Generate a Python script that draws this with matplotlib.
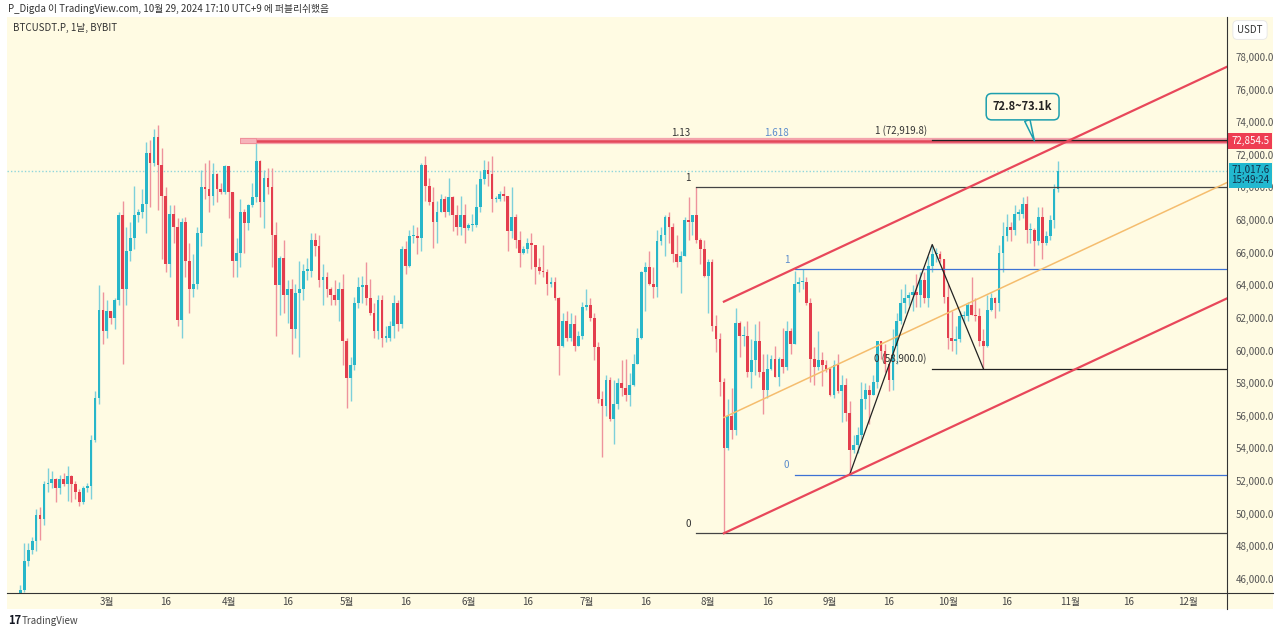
import matplotlib.pyplot as plt
import matplotlib.dates as mdates
from matplotlib.patches import Rectangle
from matplotlib.lines import Line2D
import numpy as np
import pandas as pd

plt.rcParams['font.family'] = ['Noto Sans CJK KR', 'DejaVu Sans']

# BTCUSDT.P daily candles, thousands of USDT, one row per month (Feb 8 .. Oct 29)
first_day = '2024-02-08'
first_open = 44.3
highs = [
    45.6, 48.2, 48.2, 48.6, 50.3, 50.4, 52.0, 52.8, 52.6, 52.2, 52.4, 52.5, 52.9, 52.4, 52.0, 51.5, 51.7, 51.9, 54.8, 57.5, 64.0, 63.6,
    63.1, 62.4, 63.2, 68.5, 69.2, 67.6, 67.9, 70.1, 68.7, 69.9, 72.8, 72.9, 73.6, 73.8, 72.4, 70.0, 68.9, 68.9, 68.1, 68.1, 68.2, 66.6, 65.9, 67.6, 71.1, 71.5, 71.7, 71.5, 70.9, 70.3, 71.4,
    71.3, 69.7, 66.9, 69.3, 68.7, 69.0, 70.3, 72.7, 71.7, 71.1, 71.2, 71.2, 67.9, 65.8, 66.8, 64.3, 64.4, 64.1, 65.5, 65.3, 65.7, 67.2, 67.2, 67.1, 65.3, 64.8, 63.9, 64.3, 64.2, 64.7,
    60.8, 59.6, 63.3, 64.5, 64.6, 65.4, 64.4, 62.9, 63.4, 63.4, 61.5, 61.8, 63.4, 63.1, 66.4, 66.7, 67.4, 67.7, 67.6, 71.5, 71.9, 70.6, 70.0, 69.2, 69.6, 69.5, 70.6, 69.5, 68.9, 69.5, 69.0,
    67.8, 68.4, 70.2, 71.0, 71.7, 71.6, 71.9, 69.5, 69.8, 70.1, 69.5, 70.0, 68.4, 67.3, 66.4, 66.9, 67.2, 66.5, 65.7, 66.5, 65.0, 64.5, 64.5, 63.3, 62.3, 62.4, 62.3, 62.2, 61.2, 63.0,
    63.8, 63.2, 62.3, 60.5, 57.5, 58.5, 58.4, 58.2, 58.3, 59.4, 59.5, 58.6, 59.8, 61.4, 64.9, 65.4, 66.1, 65.1, 67.4, 67.6, 68.3, 68.5, 67.8, 67.1, 66.1, 68.2, 69.4, 68.3, 70.0, 66.9, 66.8,
    65.6, 65.6, 62.2, 61.1, 58.3, 57.0, 57.7, 62.6, 61.8, 61.5, 61.8, 60.7, 61.6, 61.8, 59.8, 59.8, 59.7, 60.3, 59.6, 61.4, 61.8, 61.4, 64.9, 64.5, 65.0, 64.5, 63.2, 60.2, 61.2, 59.9, 59.4,
    59.0, 59.4, 59.8, 58.5, 58.3, 56.9, 54.8, 55.3, 58.1, 58.0, 57.9, 58.5, 60.6, 60.6, 60.4, 59.2, 61.3, 62.3, 63.8, 64.1, 63.6, 64.0, 64.7, 64.8, 64.8, 65.8, 66.5, 66.3, 66.1, 65.6,
    64.1, 62.4, 61.5, 62.4, 62.4, 63.0, 64.5, 63.2, 62.6, 61.3, 63.4, 63.5, 63.3, 66.5, 67.9, 68.4, 67.9, 68.9, 68.7, 69.4, 69.5, 67.8, 67.5, 68.8, 68.8, 67.3, 68.3, 70.2, 71.6,
]
lows = [
    44.1, 45.2, 46.8, 47.5, 47.7, 48.4, 49.3, 51.3, 51.6, 50.7, 51.2, 51.7, 50.8, 50.7, 50.9, 50.5, 50.6, 51.3, 50.9, 54.4, 56.7, 60.4,
    60.8, 61.6, 61.3, 62.8, 59.2, 62.8, 65.5, 66.2, 67.9, 68.1, 67.2, 68.8, 71.3, 68.6, 65.6, 64.8, 64.5, 66.6, 61.5, 60.8, 64.5, 62.3, 63.3, 63.8, 66.4, 69.3, 68.5, 68.9, 69.1, 69.6, 69.6,
    68.1, 64.5, 64.5, 65.1, 66.0, 67.4, 68.8, 69.1, 68.2, 67.5, 69.6, 65.1, 60.9, 62.2, 62.3, 61.7, 59.8, 60.8, 59.6, 63.1, 64.3, 64.5, 65.8, 63.9, 62.8, 63.3, 62.8, 62.8, 61.8, 59.1,
    56.5, 56.9, 58.8, 62.6, 62.9, 62.8, 62.2, 60.8, 60.7, 60.2, 60.5, 60.6, 60.8, 61.2, 61.4, 64.7, 65.1, 66.6, 65.9, 66.1, 69.2, 68.9, 66.3, 66.6, 68.5, 68.2, 68.3, 67.3, 67.1, 67.1, 66.6,
    67.4, 67.3, 67.6, 68.5, 70.2, 70.1, 68.5, 69.1, 69.2, 69.2, 66.1, 66.9, 66.3, 65.1, 65.9, 66.0, 65.0, 64.1, 64.7, 64.5, 63.4, 63.9, 63.1, 58.5, 60.2, 60.6, 60.6, 60.0, 60.3, 60.7,
    62.5, 61.8, 59.4, 56.8, 53.5, 56.0, 55.7, 54.3, 56.4, 57.2, 56.9, 56.6, 57.8, 59.2, 60.7, 62.4, 64.0, 63.2, 63.3, 66.5, 65.8, 66.6, 65.4, 65.1, 63.5, 65.8, 66.8, 67.1, 66.6, 65.3, 64.5,
    62.3, 61.2, 59.9, 57.2, 48.8, 53.9, 54.6, 54.8, 59.6, 60.3, 58.4, 57.7, 58.5, 58.4, 56.1, 57.1, 58.8, 58.4, 57.8, 58.6, 58.8, 59.8, 60.4, 63.6, 63.8, 62.8, 58.1, 57.9, 58.8, 57.8, 58.7,
    57.2, 57.1, 57.4, 55.6, 55.7, 52.4, 53.7, 53.7, 54.6, 56.4, 55.5, 57.3, 57.7, 59.5, 58.7, 57.5, 57.6, 59.2, 61.6, 62.3, 62.8, 62.4, 62.7, 62.7, 62.9, 62.7, 64.8, 65.4, 65.4, 62.9,
    60.1, 60.0, 59.8, 60.5, 61.7, 61.8, 62.2, 61.8, 60.3, 58.9, 60.2, 62.4, 62.0, 62.4, 64.8, 66.7, 66.7, 67.1, 68.0, 68.1, 66.6, 66.6, 65.2, 66.5, 65.6, 66.5, 66.8, 67.5, 69.7,
]
closes = [
    45.3, 47.1, 47.75, 48.3, 49.9, 49.7, 51.8, 51.9, 52.1, 51.6, 52.1, 51.8, 52.3, 51.8, 51.3, 50.7, 51.6, 51.7, 54.5, 57.1, 62.5, 61.2,
    62.4, 62.0, 63.1, 68.3, 63.8, 66.1, 66.9, 68.3, 68.5, 69.0, 72.1, 71.5, 73.1, 71.4, 69.5, 65.3, 68.4, 67.6, 61.9, 67.9, 65.5, 63.8, 64.1, 67.2, 70.0, 69.9, 69.5, 70.8, 69.9, 69.7, 71.3,
    69.7, 65.5, 66.0, 68.5, 67.8, 68.9, 69.4, 71.6, 69.1, 70.6, 70.0, 67.1, 64.0, 65.7, 63.4, 63.8, 61.3, 63.5, 63.8, 64.9, 64.9, 66.8, 66.4, 64.3, 64.5, 63.8, 63.4, 63.1, 63.8, 60.6,
    58.3, 59.1, 62.9, 63.9, 64.0, 63.2, 62.3, 61.2, 63.1, 60.8, 60.8, 61.5, 62.9, 61.6, 66.2, 65.2, 67.0, 67.0, 66.9, 71.4, 70.1, 69.1, 67.9, 68.5, 69.3, 68.5, 69.4, 68.3, 67.6, 68.3, 67.5,
    67.7, 67.7, 68.8, 70.5, 71.1, 70.8, 69.3, 69.3, 69.6, 69.5, 67.3, 68.2, 66.8, 66.0, 66.2, 66.6, 66.5, 65.1, 64.9, 64.8, 64.1, 64.2, 63.2, 60.3, 61.8, 60.8, 61.6, 60.3, 60.9, 62.7,
    62.8, 62.0, 60.2, 57.0, 56.6, 58.2, 55.8, 56.7, 58.0, 57.7, 57.3, 57.9, 59.2, 60.8, 64.8, 65.1, 64.1, 63.9, 66.7, 67.1, 68.2, 67.6, 65.9, 65.4, 65.8, 68.0, 67.9, 68.3, 66.8, 66.2, 64.6,
    65.4, 61.5, 60.7, 58.1, 54.0, 56.0, 55.1, 61.7, 60.9, 60.9, 58.7, 59.4, 60.6, 58.7, 57.6, 58.9, 59.5, 58.4, 59.5, 59.0, 61.2, 60.4, 64.1, 64.2, 64.2, 62.9, 59.5, 59.0, 59.4, 59.1, 58.9,
    57.3, 59.1, 57.5, 57.9, 56.2, 53.9, 54.2, 54.8, 57.0, 57.6, 57.3, 58.1, 60.6, 60.0, 59.2, 58.2, 60.3, 61.8, 62.9, 63.2, 63.4, 63.6, 63.4, 64.3, 63.2, 65.2, 65.9, 65.9, 65.6, 63.3,
    60.8, 60.6, 60.7, 62.1, 62.1, 62.8, 62.2, 62.1, 60.6, 60.3, 62.5, 63.2, 62.9, 66.0, 67.0, 67.6, 67.4, 68.4, 68.4, 69.0, 67.4, 67.4, 66.7, 68.2, 66.6, 67.0, 68.0, 69.9, 71.0176,
]

last_price = 71017.6
countdown = '15:49:24'
resist_price = 72854.5

# drawings on the chart (dates, prices)
fib_main_start = '2024-07-29'
fib_main_levels = [70000, 48800]
fib_main_labels = ['1', '0']
fib_main_ext = (72756, '1.13')
fib_blue_start = '2024-08-23'
fib_blue_levels = [65000, 52400]
fib_blue_labels = ['1', '0']
fib_blue_ext = (72787, '1.618')
fib_trend_start = '2024-09-27'
fib_trend_levels = [58900, 72919.8]
fib_trend_labels = ['0 (58,900.0)', '1 (72,919.8)']
zigzag_dates = ['2024-09-06', '2024-09-27', '2024-10-10']
zigzag_prices = [52400, 66500, 58900]
chan_dates = ['2024-08-05', '2024-12-11']
chan_upper = [63000, 77400]
chan_lower = [48800, 63200]
chan_mid = [55900, 70300]
resist_box = ('2024-04-04', '2024-04-08')
callout_text = '72.8~73.1k'
callout_tip = ('2024-10-23', resist_price)
callout_box = ('2024-10-20', 74950)

yticks = list(range(46000, 78001, 2000))
month_ticks = ['2024-03-01', '2024-03-16', '2024-04-01', '2024-04-16', '2024-05-01', '2024-05-16',
               '2024-06-01', '2024-06-16', '2024-07-01', '2024-07-16', '2024-08-01', '2024-08-16',
               '2024-09-01', '2024-09-16', '2024-10-01', '2024-10-16', '2024-11-01', '2024-11-16',
               '2024-12-01']
month_labels = ['3월', '16', '4월', '16', '5월', '16', '6월', '16', '7월', '16', '8월', '16',
                '9월', '16', '10월', '16', '11월', '16', '12월']

cream = '#fffbe3'
up_col, dn_col = '#27b6c9', '#e33e4d'
up_wick, dn_wick = '#7dd0da', '#ee939c'

W, H = 1280, 634
fig = plt.figure(figsize=(W / 100, H / 100), dpi=100, facecolor='white')
fig.patches.append(Rectangle((7 / W, 1 - 609 / H), 1266 / W, 592 / H, transform=fig.transFigure,
                             fc=cream, ec='none', zorder=-5))
ax = fig.add_axes([7 / W, 1 - 593 / H, 1220 / W, 576 / H])
ax.set_facecolor(cream)

# candles
h = np.array(highs) * 1000
l = np.array(lows) * 1000
c = np.array(closes) * 1000
o = np.concatenate([[first_open * 1000], c[:-1]])  # perp runs 24/7: open = previous close
dates = pd.date_range(first_day, periods=len(c))
x = mdates.date2num(dates)
up = c >= o
for m, col, wcol in [(up, up_col, up_wick), (~up, dn_col, dn_wick)]:
    ax.vlines(x[m], l[m], h[m], color=wcol, lw=1.0, zorder=2)
    body = np.maximum(np.abs(c[m] - o[m]), 70)
    ax.bar(x[m], body, bottom=np.minimum(o[m], c[m]), width=0.7, color=col, lw=0, zorder=3)

d = lambda s: mdates.date2num(pd.Timestamp(s))
x_right = d('2024-12-11')

# current price dotted line
ax.axhline(last_price, color='#8fd6dc', lw=1, ls=(0, (1, 1.5)), zorder=1)

# resistance band
ax.plot([d(resist_box[0]), x_right], [resist_price, resist_price], color='#f4a3ac', lw=4.5,
        solid_capstyle='butt', zorder=4)
ax.plot([d(resist_box[1]), x_right], [resist_price, resist_price], color='#e4485a', lw=1.8,
        solid_capstyle='butt', zorder=4)
ax.add_patch(Rectangle((d(resist_box[0]), resist_price - 150), d(resist_box[1]) - d(resist_box[0]), 300,
                       fc='#f6b3ba', ec='#ee8d97', lw=0.6, zorder=5))

def fib_label(start, level, text, color):
    ax.annotate(text, xy=(d(start), level), xytext=(-4, 3), textcoords='offset points',
                ha='right', va='bottom', fontsize=7, color=color, zorder=6)

# main fib (black)
for lev, lab in zip(fib_main_levels, fib_main_labels):
    ax.plot([d(fib_main_start), x_right], [lev, lev], color='#444444', lw=0.9, zorder=4)
    fib_label(fib_main_start, lev, lab, '#333333')
fib_label(fib_main_start, fib_main_ext[0], fib_main_ext[1], '#333333')

# blue fib
for lev, lab in zip(fib_blue_levels, fib_blue_labels):
    ax.plot([d(fib_blue_start), x_right], [lev, lev], color='#3d72d4', lw=0.9, zorder=4)
    fib_label(fib_blue_start, lev, lab, '#5b8ccc')
fib_label(fib_blue_start, fib_blue_ext[0], fib_blue_ext[1], '#5b8ccc')

# trend based fib
for lev, lab in zip(fib_trend_levels, fib_trend_labels):
    ax.plot([d(fib_trend_start), x_right], [lev, lev], color='#222222', lw=0.9, zorder=5)
    fib_label(fib_trend_start, lev, lab, '#333333')
ax.plot([d(s) for s in zigzag_dates], zigzag_prices, color='#222222', lw=0.9, zorder=5)

# channel
cx = [d(s) for s in chan_dates]
ax.plot(cx, chan_upper, color='#e8475a', lw=1.6, zorder=5)
ax.plot(cx, chan_lower, color='#e8475a', lw=1.6, zorder=5)
ax.plot(cx, chan_mid, color='#f5bd6e', lw=1.1, zorder=4)

# callout
ax.annotate(callout_text, xy=(d(callout_tip[0]), callout_tip[1]),
            xytext=(d(callout_box[0]), callout_box[1]), ha='center', va='center',
            fontsize=8, fontweight='bold', color='#222222', zorder=7,
            bbox=dict(boxstyle='round,pad=0.6,rounding_size=0.5', fc=cream, ec='#1d9fae', lw=1.1),
            arrowprops=dict(arrowstyle='wedge,tail_width=0.5,shrink_factor=0.5', fc=cream,
                            ec='#1d9fae', lw=1.1, shrinkA=0, shrinkB=0))

# axes
ax.set_xlim(d('2024-03-01') - 25.4, x_right)
ax.set_ylim(45137, 80450)
ax.set_xticks([d(s) for s in month_ticks])
ax.set_xticklabels(month_labels)
ax.set_yticks(yticks)
ax.set_yticklabels([f'{v:,.1f}' for v in yticks])
ax.yaxis.tick_right()
ax.tick_params(axis='x', length=0, pad=3, labelsize=7, colors='#444444')
ax.tick_params(axis='y', length=0, pad=6, labelsize=7, colors='#555555')
for s in ax.spines.values():
    s.set_visible(False)
fig.lines.append(Line2D([7 / W, 1273 / W], [1 - 593 / H] * 2, transform=fig.transFigure,
                        color='#333333', lw=0.8))
fig.lines.append(Line2D([1227 / W] * 2, [1 - 17 / H, 1 - 609 / H], transform=fig.transFigure,
                        color='#333333', lw=0.8))

# price badges
ax.annotate(f'{resist_price:,.1f}', xy=(1, resist_price), xycoords=('axes fraction', 'data'),
            xytext=(3, 0), textcoords='offset points', ha='left', va='center', fontsize=7,
            color='white', zorder=8, annotation_clip=False,
            bbox=dict(boxstyle='square,pad=0.3', fc='#ee3d52', ec='none'))
ax.annotate(f'{last_price:,.1f}\n{countdown}', xy=(1, last_price), xycoords=('axes fraction', 'data'),
            xytext=(3, 4), textcoords='offset points', ha='left', va='top', fontsize=7,
            color='#12304a', linespacing=1.0, zorder=8, annotation_clip=False,
            bbox=dict(boxstyle='square,pad=0.25', fc='#22b8cf', ec='none'))

# texts
fig.text(1250 / W, 1 - 30 / H, 'USDT', ha='center', va='center', fontsize=7, color='#333333',
         bbox=dict(boxstyle='round,pad=0.45', fc='white', ec='#e6e6e6', lw=0.6))
fig.text(8 / W, 1 - 9 / H, 'P_Digda 이 TradingView.com, 10월 29, 2024 17:10 UTC+9 에 퍼블리쉬했음',
         ha='left', va='center', fontsize=7, color='#333333')
fig.text(13 / W, 1 - 28 / H, 'BTCUSDT.P, 1날, BYBIT', ha='left', va='center', fontsize=7,
         color='#333333')
fig.text(8 / W, 1 - 621 / H, '17', ha='left', va='center', fontsize=8, fontweight='bold',
         color='#131722')
fig.text(22 / W, 1 - 621 / H, 'TradingView', ha='left', va='center', fontsize=7, color='#444444')

fig.savefig('out.png', dpi=100, facecolor='white')
